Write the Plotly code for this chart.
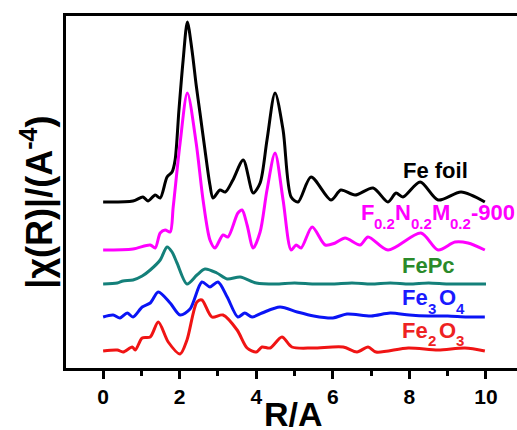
import plotly.graph_objects as go

# Fourier-transformed EXAFS |chi(R)| curves, stacked (arbitrary units)
r_foil = [0, 0.78, 1.04, 1.17, 1.36, 1.49, 1.67, 1.80, 1.88, 1.98, 2.09, 2.20, 2.32, 2.43, 2.53, 2.66,
          2.79, 2.87, 3.05, 3.19, 3.39, 3.66, 3.92, 4.10, 4.28, 4.49, 4.70, 4.91, 5.09, 5.43, 5.95,
          6.21, 6.58, 7.05, 7.44, 7.65, 7.83, 8.28, 8.75, 9.35, 9.97]
chi_foil = [166, 167, 171, 167, 173, 170, 191, 196, 208, 258, 308, 346, 318, 283, 255, 218,
            183, 170, 178, 176, 188, 208, 175, 185, 228, 275, 238, 171, 166, 191, 168,
            178, 173, 180, 166, 175, 171, 186, 168, 176, 166]

r_fnm = [0, 0.78, 1.23, 1.36, 1.49, 1.62, 1.75, 1.83, 2.01, 2.20, 2.43, 2.61, 2.79, 2.92, 3.13,
         3.26, 3.52, 3.63, 3.76, 3.92, 4.10, 4.28, 4.49, 4.70, 4.91, 5.04, 5.17, 5.46, 5.80,
         6.06, 6.32, 6.71, 6.92, 7.44, 8.30, 8.75, 9.19, 9.53, 9.97]
chi_fnm = [118, 119, 123, 120, 135, 138, 136, 161, 225, 275, 225, 168, 128, 120, 133,
           131, 155, 158, 143, 120, 136, 178, 215, 168, 118, 123, 120, 141, 123,
           125, 130, 123, 131, 118, 135, 118, 126, 125, 118]

r_fepc = [0, 0.37, 0.52, 0.78, 1.02, 1.23, 1.49, 1.67, 1.80, 1.93, 2.19, 2.45, 2.66, 2.97, 3.24,
          3.58, 4.0, 4.5, 5.0, 5.5, 6.0, 6.5, 7.0, 7.5, 8.0, 8.5, 9.0, 9.5, 10.0]
chi_fepc = [84, 85, 87, 88, 92, 98, 108, 121, 116, 105, 84, 93, 99, 95, 89,
            91, 85, 84, 85, 84, 84, 85, 84, 85, 84, 85, 84, 84, 84]

r_fe3o4 = [0, 0.26, 0.44, 0.63, 0.78, 1.02, 1.23, 1.44, 1.75, 2.01, 2.27, 2.58, 2.79, 3.0, 3.24,
           3.52, 3.70, 3.89, 4.15, 4.62, 5.07, 5.5, 6.0, 6.37, 7.0, 7.5, 8.0, 8.5, 9.0, 9.5, 9.97]
chi_fe3o4 = [51, 53, 50, 55, 51, 61, 65, 76, 65, 53, 59, 86, 81, 86, 71,
             51, 55, 51, 55, 61, 56, 52, 50, 54, 52, 55, 53, 52, 52, 51, 51]

r_fe2o3 = [0, 0.37, 0.52, 0.76, 0.84, 1.02, 1.23, 1.44, 1.70, 2.01, 2.19, 2.45, 2.58, 2.84, 3.13,
           3.50, 3.76, 4.0, 4.15, 4.36, 4.67, 4.93, 5.48, 6.27, 6.63, 6.92, 7.13, 7.97, 8.75, 9.45, 9.97]
chi_fe2o3 = [17, 18, 16, 21, 18, 30, 31, 46, 26, 14, 28, 66, 68, 51, 53,
             38, 20, 16, 21, 20, 31, 21, 20, 21, 16, 21, 16, 20, 18, 20, 17]

tick_vals = [0, 2, 4, 6, 8, 10]
tick_text = ["0", "2", "4", "6", "8", "10"]

FONT = "Liberation Sans, Arial, sans-serif"
X_RANGE = [-0.97, 10.81]
Y_RANGE = [0, 352]
PLOT_W = 451  # plot-area width in px (517 - left margin)
PX_PER_X = PLOT_W / (X_RANGE[1] - X_RANGE[0])

MAIN_SIZE = 22
SUB_SIZE = 15

# advance widths (em) of Liberation Sans Bold for the glyphs used in the labels
ADV = {"F": 0.611, "N": 0.722, "M": 0.833, "-": 0.333, "9": 0.556, "0": 0.556,
       ".": 0.278, "2": 0.556, "3": 0.556, "4": 0.556, "e": 0.556, "O": 0.778}


def text_width(s, size):
    return sum(ADV.get(ch, 0.556) for ch in s) * size


series = [
    (r_foil, chi_foil, "#000000"),
    (r_fnm, chi_fnm, "#ff00ff"),
    (r_fepc, chi_fepc, "#14807a"),
    (r_fe3o4, chi_fe3o4, "#0a14f5"),
    (r_fe2o3, chi_fe2o3, "#f01414"),
]

fig = go.Figure()
for rr, cc, col in series:
    fig.add_trace(go.Scatter(
        x=rr, y=cc, mode="lines",
        line=dict(color=col, width=3, shape="spline", smoothing=0.8),
        showlegend=False, hoverinfo="skip",
    ))

# plain curve labels
for txt, lx, ly, col in [("Fe foil", 8.69, 198, "#000000"), ("FePc", 8.49, 103, "#2a8a2a")]:
    fig.add_annotation(
        x=lx, y=ly, xref="x", yref="y", text=txt, showarrow=False,
        xanchor="center", yanchor="middle",
        font=dict(family=FONT, size=MAIN_SIZE, color=col, weight="bold"),
    )


def add_formula(runs, x_start, y_main, sub_drop, col, sub_gap=1.5):
    """Lay out a chemical label run by run; subscripts sit lower and smaller."""
    x = x_start
    for s, is_sub in runs:
        size = SUB_SIZE if is_sub else MAIN_SIZE
        fig.add_annotation(
            x=x, y=y_main - (sub_drop if is_sub else 0), xref="x", yref="y",
            text=s, showarrow=False, xanchor="left", yanchor="middle", borderpad=0,
            font=dict(family=FONT, size=size, color=col, weight="bold"),
        )
        x += (text_width(s, size) + (sub_gap if is_sub else 0)) / PX_PER_X


add_formula([("F", False), ("0.2", True), ("N", False), ("0.2", True),
             ("M", False), ("0.2", True), ("-900", False)],
            6.70, 156, 11, "#ff00ff", sub_gap=0)
add_formula([("Fe", False), ("3", True), ("O", False), ("4", True)],
            7.78, 71, 11, "#1a1aff", sub_gap=2.5)
add_formula([("Fe", False), ("2", True), ("O", False), ("3", True)],
            7.78, 38, 10, "#ee2222", sub_gap=2.5)

# axis titles
fig.add_annotation(
    x=-0.064, y=0.47, xref="paper", yref="paper", text="|χ(R)|/(A<sup>-4</sup>)",
    textangle=-90, showarrow=False, xanchor="center", yanchor="middle",
    font=dict(family=FONT, size=36, color="#000000", weight="bold"),
)
fig.add_annotation(
    x=0.505, y=-0.13, xref="paper", yref="paper", text="R/A",
    showarrow=False, xanchor="center", yanchor="middle",
    font=dict(family=FONT, size=34, color="#000000", weight="bold"),
)

fig.update_layout(
    width=517, height=430,
    margin=dict(l=66, r=0, t=16, b=62),
    paper_bgcolor="white", plot_bgcolor="white",
    font=dict(family=FONT),
    xaxis=dict(
        range=X_RANGE, showgrid=False, zeroline=False,
        showline=True, linecolor="#000000", linewidth=2.5, mirror=True,
        tickmode="array", tickvals=tick_vals, ticktext=tick_text,
        ticks="outside", ticklen=8, tickwidth=2.5, tickcolor="#000000",
        tickfont=dict(family=FONT, size=21, color="#000000", weight="bold"),
        minor=dict(dtick=1, tick0=1, ticks="outside", ticklen=5, tickwidth=2.5, tickcolor="#000000"),
    ),
    yaxis=dict(
        range=Y_RANGE, showgrid=False, zeroline=False,
        showline=True, linecolor="#000000", linewidth=2.5, mirror=False,
        showticklabels=False, ticks="",
    ),
)

fig.write_html("out.html")
